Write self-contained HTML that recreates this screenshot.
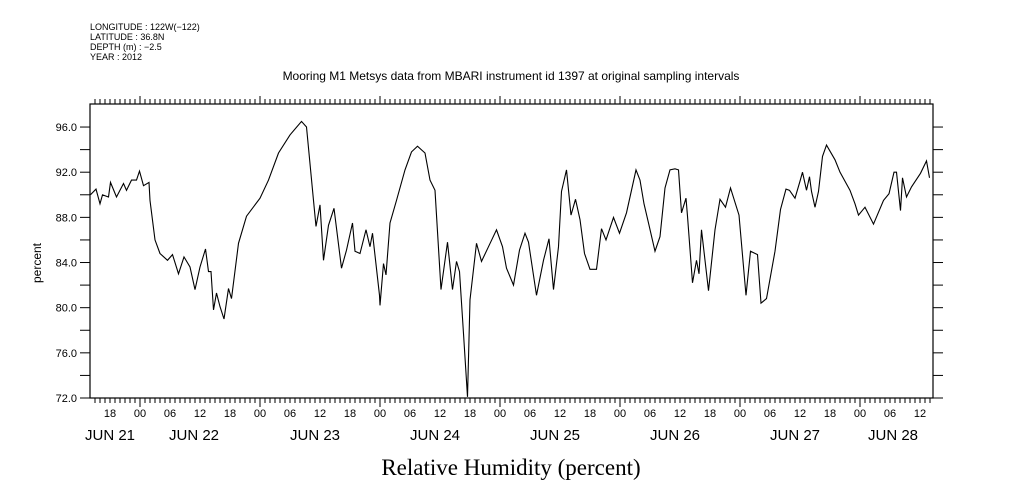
<!DOCTYPE html>
<html><head><meta charset="utf-8"><style>
html,body{margin:0;padding:0;background:#fff;}
svg{display:block;font-family:"Liberation Sans",sans-serif;}
</style></head><body>
<svg id="chart" width="1009" height="504" viewBox="0 0 1009 504" xmlns="http://www.w3.org/2000/svg">
<g font-size="9" fill="#000">
<text x="90" y="30">LONGITUDE : 122W(−122)</text>
<text x="90" y="40">LATITUDE : 36.8N</text>
<text x="90" y="50">DEPTH (m) : −2.5</text>
<text x="90" y="60">YEAR : 2012</text>
</g>
<text x="511" y="80" text-anchor="middle" font-size="12">Mooring M1 Metsys data from MBARI instrument id 1397 at original sampling intervals</text>
<rect x="90" y="104" width="843" height="294" fill="none" stroke="#000" stroke-width="1.2"/>
<g id="axes"></g>
<path id="series" d="" fill="none" stroke="#000" stroke-width="1.1"/>
<text transform="translate(41,263) rotate(-90)" text-anchor="middle" font-size="12">percent</text>
<text x="511" y="475" text-anchor="middle" font-size="23" font-family="Liberation Serif, serif">Relative Humidity (percent)</text>
</svg>
<script>
const hours=[14.1,15.2,16,16.5,17.7,18.1,19.3,20.7,21.3,22.3,23.3,23.9,24.7,25.8,26,27,28,29.5,30.5,31.7,32.8,34,35,36,37.1,37.7,38.2,38.7,39.3,40,40.8,41.7,42.3,43.7,45.3,48,49.7,51.7,54,56.3,57.3,58.7,59.2,60,60.7,61.7,62.8,64.3,65.3,66.5,67,68,69.2,70,70.5,71.9,72,72.7,73.2,74,75.3,77,78.3,79.5,81,82,83,84.2,85.5,86.5,87.3,87.9,88.7,89.5,90,91.3,92.3,93.7,95.3,96.5,97.3,98.7,99.9,101,101.7,103.3,104.7,105.8,106.7,107.7,108.3,109.3,110.2,111.1,112,112.9,114,115.3,116.3,117.2,118.7,119.9,121.3,123.2,124,124.8,125.7,127,128,129,130,131,131.7,132.3,133.2,133.5,134.5,135.3,135.8,136.3,137.7,139,140,141.1,142.1,143.8,145.2,146.1,147.5,148.2,149.3,151,152.1,153.2,153.9,155,156,156.5,157.3,157.9,158.3,159,159.7,160.5,161.3,163,164,166,167,167.7,169,170.7,172.7,173.8,174.8,175.3,176.1,176.5,177.3,178.3,180.1,181.3,181.9];
const humidity=[90.0,90.5,89.2,90.0,89.8,91.1,89.8,91.0,90.4,91.3,91.3,92.1,90.8,91.1,89.5,86.0,84.8,84.2,84.7,83.0,84.5,83.6,81.6,83.6,85.2,83.2,83.2,79.8,81.3,80.1,79.0,81.7,80.8,85.7,88.1,89.7,91.3,93.7,95.3,96.5,96.0,89.5,87.2,89.1,84.2,87.3,88.8,83.5,85.1,87.5,85.0,84.8,86.9,85.4,86.6,81.1,80.2,83.9,82.9,87.5,89.5,92.2,93.8,94.3,93.7,91.3,90.4,81.6,85.8,81.6,84.1,83.2,77.7,72.1,80.7,85.7,84.1,85.4,86.9,85.4,83.5,82.0,85.1,86.6,85.8,81.1,84.2,86.1,81.6,85.4,90.3,92.2,88.2,89.6,87.8,84.8,83.4,83.4,87.0,86.0,88.0,86.6,88.4,92.2,91.3,89.2,87.5,85.0,86.3,90.6,92.2,92.3,92.2,88.4,89.7,88.1,82.2,84.2,83.0,86.9,81.5,86.9,89.6,88.9,90.6,88.2,81.1,85.0,84.7,80.4,80.8,85.0,88.7,90.5,90.4,89.7,91.2,92.0,90.4,91.6,90.3,88.9,90.3,93.4,94.4,93.1,92.0,90.4,89.2,88.2,88.9,87.4,89.5,90.1,92.0,92.0,88.6,91.5,89.8,90.7,91.9,93.0,91.5,91.6];
const yTicks=[72,76,80,84,88,92,96];
const hourLabels=["18","00","06","12","18","00","06","12","18","00","06","12","18","00","06","12","18","00","06","12","18","00","06","12","18","00","06","12"];
const dayLabels=["JUN 21","JUN 22","JUN 23","JUN 24","JUN 25","JUN 26","JUN 27","JUN 28"];
const dayLabelX=[110,194,315,435,555,675,795,893];

const X0=90,X1=933,Y0=398,Y1=104;
function xs(h){return 20+h*5;}
function ys(v){return 398-(v-72)*11.29;}
const NS="http://www.w3.org/2000/svg";
const axes=document.getElementById('axes');
function line(x1,y1,x2,y2,name){const l=document.createElementNS(NS,'line');l.setAttribute('x1',x1);l.setAttribute('y1',y1);l.setAttribute('x2',x2);l.setAttribute('y2',y2);l.setAttribute('stroke','#000');l.setAttribute('stroke-width','1');


axes.appendChild(l);}
function text(x,y,s,size,anchor,name){const t=document.createElementNS(NS,'text');t.setAttribute('x',x);t.setAttribute('y',y);t.setAttribute('font-size',size);t.setAttribute('text-anchor',anchor);t.textContent=s;


axes.appendChild(t);}
for(let h=15;h<=182;h++){const x=xs(h);const major=h%24===0;
line(x,Y0,x,Y0+(major?9:5),'x-tick');
line(x,Y1,x,Y1-(major?8:5),'x-tick-top');}
for(let i=0;i<hourLabels.length;i++){const h=18+i*6;text(xs(h),417,hourLabels[i],11,'middle','x-tick-label');}
for(let i=0;i<dayLabels.length;i++){text(dayLabelX[i],440,dayLabels[i],15,'middle','day-label');}
for(let v=72;v<=96;v+=2){const y=ys(v);line(80,y,X0,y,'y-tick');line(X1,y,943,y,'y-tick-right');}
yTicks.forEach(v=>text(77,ys(v)+4,v.toFixed(1),11,'end','y-tick-label'));
let d='';for(let i=0;i<hours.length;i++){d+=(i?'L':'M')+xs(hours[i]).toFixed(1)+' '+ys(humidity[i]).toFixed(1);}
document.getElementById('series').setAttribute('d',d);
</script>
</body></html>
